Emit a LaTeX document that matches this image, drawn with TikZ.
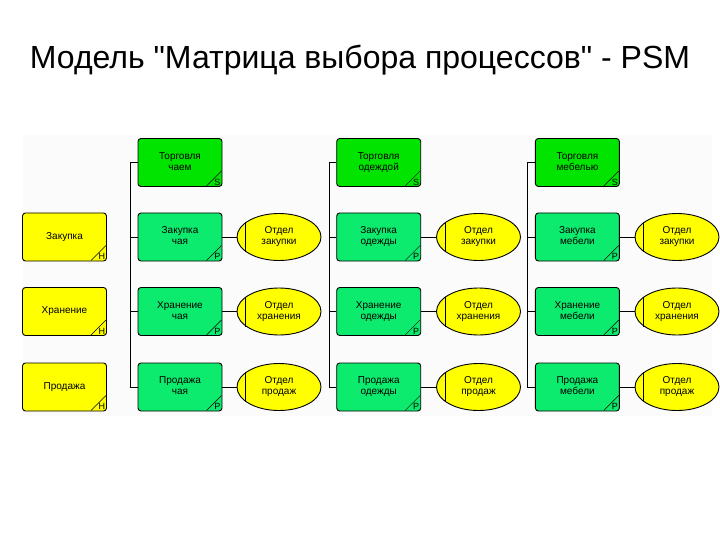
\documentclass[tikz,border=0pt]{standalone}
\usepackage{fontspec}
\setmainfont{Liberation Sans}
\newfontfamily\titlefont{Liberation Sans}
\usetikzlibrary{shapes.geometric}
\definecolor{topgreen}{HTML}{00E400}
\definecolor{rowgreen}{HTML}{0DEB6E}
\definecolor{yel}{HTML}{FFFF00}
\definecolor{bgpanel}{HTML}{FBFBFB}
\tikzset{
  box/.style={draw=black, line width=0.9pt, rounded corners=3pt, minimum width=84pt, minimum height=48pt, inner sep=0pt, align=center, font=\fontsize{10}{11}\selectfont},
  topbox/.style={box, fill=topgreen},
  procbox/.style={box, fill=rowgreen},
  funcbox/.style={box, fill=yel},
  dept/.style={ellipse, draw=black, line width=0.9pt, fill=yel, minimum width=84pt, minimum height=47pt, inner sep=0pt, align=center, font=\fontsize{10}{11}\selectfont},
  link/.style={draw=black, line width=0.9pt},
  markline/.style={draw=black, line width=0.5pt},
  tag/.style={font=\fontsize{9}{9}\selectfont, inner sep=0pt}
}
\newcommand\twol[2]{\strut #1\\\strut #2}
\newcommand\cornermark[2]{%
  \draw[markline] ([xshift=-16pt,yshift=1pt]#1.south east) -- ([xshift=-1pt,yshift=16pt]#1.south east);
  \node[tag] at ([xshift=-5pt,yshift=5pt]#1.south east) {#2};}
\newcommand\deptline[1]{%
  \draw[markline] ([xshift=9pt,yshift=15pt]#1.west) -- ([xshift=9pt,yshift=-15pt]#1.west);}
\begin{document}
\begin{tikzpicture}[x=1pt,y=-1pt]
\useasboundingbox (0,0) rectangle (720,540);
\fill[bgpanel] (23,135) rectangle (712,416);
\node[anchor=base, font=\titlefont\fontsize{32}{34}\selectfont] (title) at (360,69) {Модель "Матрица выбора процессов" - PSM};

% left functions
\node[funcbox] (f1) at (64.5,237) {Закупка};
\node[funcbox] (f2) at (64.5,311.5) {Хранение};
\node[funcbox] (f3) at (64.5,387) {Продажа};

% column 1 (tea)
\node[topbox] (t1) at (180,162.5) {\twol{Торговля}{чаем}};
\node[procbox] (p11) at (180,237) {\twol{Закупка}{чая}};
\node[procbox] (p12) at (180,311.5) {\twol{Хранение}{чая}};
\node[procbox] (p13) at (180,387) {\twol{Продажа}{чая}};
\node[dept] (d11) at (279,237) {\twol{Отдел}{закупки}};
\node[dept] (d12) at (279,311.5) {\twol{Отдел}{хранения}};
\node[dept] (d13) at (279,387) {\twol{Отдел}{продаж}};

% column 2 (clothes)
\node[topbox] (t2) at (378.7,162.5) {\twol{Торговля}{одеждой}};
\node[procbox] (p21) at (378.7,237) {\twol{Закупка}{одежды}};
\node[procbox] (p22) at (378.7,311.5) {\twol{Хранение}{одежды}};
\node[procbox] (p23) at (378.7,387) {\twol{Продажа}{одежды}};
\node[dept] (d21) at (478.5,237) {\twol{Отдел}{закупки}};
\node[dept] (d22) at (478.5,311.5) {\twol{Отдел}{хранения}};
\node[dept] (d23) at (478.5,387) {\twol{Отдел}{продаж}};

% column 3 (furniture)
\node[topbox] (t3) at (577.4,162.5) {\twol{Торговля}{мебелью}};
\node[procbox] (p31) at (577.4,237) {\twol{Закупка}{мебели}};
\node[procbox] (p32) at (577.4,311.5) {\twol{Хранение}{мебели}};
\node[procbox] (p33) at (577.4,387) {\twol{Продажа}{мебели}};
\node[dept] (d31) at (677,237) {\twol{Отдел}{закупки}};
\node[dept] (d32) at (677,311.5) {\twol{Отдел}{хранения}};
\node[dept] (d33) at (677,387) {\twol{Отдел}{продаж}};

% trees
\foreach \c/\vx in {1/130, 2/329, 3/527.4} {
  \coordinate (va\c) at (\vx,162.5);
  \coordinate (vb\c) at (\vx,387);
  \draw[link] (va\c) -- (vb\c);
  \draw[link] (va\c) -- (t\c.west);
  \foreach \r in {1,2,3} {
    \draw[link] (va\c |- p\c\r.west) -- (p\c\r.west);
    \draw[link] (p\c\r.east) -- (d\c\r.west);
    \deptline{d\c\r}
    \cornermark{p\c\r}{P}
  }
  \cornermark{t\c}{S}
}
\foreach \r in {1,2,3} { \cornermark{f\r}{H} }
\end{tikzpicture}
\end{document}
